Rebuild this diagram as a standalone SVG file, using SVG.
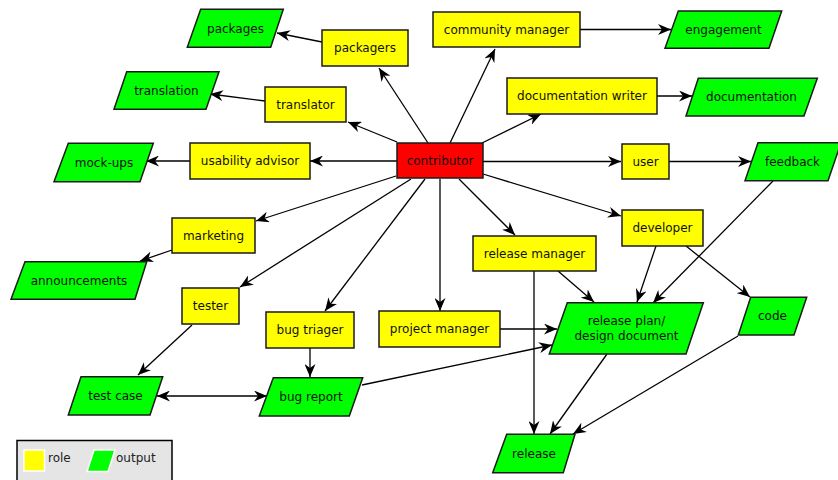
<svg xmlns="http://www.w3.org/2000/svg" width="838" height="480" viewBox="0 0 838 480">
<style>
.role{fill:#ffff00;stroke:#1a1a1a;stroke-width:1.5}
.out{fill:#00ff00;stroke:#1a1a1a;stroke-width:1.5}
.main{fill:#ff0000;stroke:#1a1a1a;stroke-width:1.5}
text{font-family:"DejaVu Sans",sans-serif;font-size:12px;fill:#111;text-anchor:middle}
.e line,.e path{stroke:#000;stroke-width:1.3;fill:none;marker-end:url(#a)}
</style>
<defs>
<marker id="a" viewBox="0 0 13 11" refX="13" refY="5.5" markerWidth="13" markerHeight="11" markerUnits="userSpaceOnUse" orient="auto-start-reverse">
<path d="M0,0 L13,5.5 L0,11 L4,5.5 z" fill="#000"/>
</marker>
</defs>
<rect width="838" height="480" fill="#fff"/>
<g id="edges" class="e">
<line x1="428" y1="143" x2="379" y2="68"/>
<line x1="397" y1="142" x2="348" y2="122"/>
<line x1="450" y1="143" x2="495" y2="49"/>
<line x1="482" y1="143" x2="541" y2="114"/>
<line x1="580" y1="29.5" x2="671" y2="29.5"/>
<line x1="657" y1="96" x2="692" y2="96"/>
<line x1="397" y1="161" x2="310" y2="161"/>
<line x1="190" y1="161" x2="146" y2="161"/>
<line x1="396" y1="176" x2="256" y2="221"/>
<line x1="172" y1="250" x2="140" y2="261"/>
<line x1="411" y1="179" x2="240" y2="287"/>
<line x1="425" y1="179" x2="325" y2="311"/>
<line x1="440" y1="179" x2="440" y2="311"/>
<line x1="459" y1="179" x2="515" y2="235"/>
<line x1="483" y1="161.5" x2="621" y2="161.5"/>
<line x1="669" y1="161.5" x2="751" y2="161.5"/>
<line x1="483" y1="174" x2="621" y2="216"/>
<line x1="773" y1="181" x2="653" y2="303"/>
<line x1="656" y1="246" x2="637" y2="302"/>
<line x1="686" y1="246" x2="750" y2="297"/>
<line x1="558" y1="271" x2="594" y2="302"/>
<line x1="534" y1="271" x2="534" y2="434"/>
<line x1="500" y1="329" x2="557" y2="329"/>
<line x1="362" y1="385" x2="552" y2="345"/>
<line x1="607" y1="354" x2="550" y2="434"/>
<line x1="738" y1="336" x2="573" y2="434"/>
<line x1="192" y1="325" x2="138" y2="375"/>
<line x1="310" y1="348" x2="310" y2="377"/>
<line x1="157" y1="396" x2="267" y2="396" style="marker-start:url(#a)"/>
<line x1="322" y1="42" x2="277" y2="33"/>
<line x1="265" y1="101" x2="210" y2="94"/>
</g>
<g id="contributor"><rect class="main" x="397" y="143" width="86" height="35"/><text x="440" y="165">contributor</text></g>
<g id="packagers"><rect class="role" x="322" y="30" width="86" height="36"/><text x="365" y="52">packagers</text></g>
<g id="translator"><rect class="role" x="265" y="87" width="81" height="35"/><text x="305.5" y="109">translator</text></g>
<g id="community_manager"><rect class="role" x="433" y="12" width="147" height="35"/><text x="506.5" y="34">community manager</text></g>
<g id="documentation_writer"><rect class="role" x="507" y="78" width="150" height="36"/><text x="582" y="100">documentation writer</text></g>
<g id="usability_advisor"><rect class="role" x="190" y="143" width="120" height="36"/><text x="250" y="165">usability advisor</text></g>
<g id="marketing"><rect class="role" x="172" y="218" width="83" height="35"/><text x="213.5" y="240">marketing</text></g>
<g id="tester"><rect class="role" x="182" y="288" width="57" height="36"/><text x="210.5" y="310">tester</text></g>
<g id="bug_triager"><rect class="role" x="266" y="312" width="88" height="36"/><text x="310" y="334">bug triager</text></g>
<g id="project_manager"><rect class="role" x="379" y="311" width="121" height="36"/><text x="439.5" y="333">project manager</text></g>
<g id="release_manager"><rect class="role" x="473" y="236" width="123" height="35"/><text x="534.5" y="258">release manager</text></g>
<g id="user"><rect class="role" x="622" y="144" width="47" height="35"/><text x="645.5" y="166">user</text></g>
<g id="developer"><rect class="role" x="622" y="210" width="81" height="36"/><text x="662.5" y="232">developer</text></g>
<g id="packages"><polygon class="out" points="200.7,9.3 283.3,9.3 270.7,47.3 187.3,47.3"/><text x="235.5" y="32.5">packages</text></g>
<g id="translation"><polygon class="out" points="126.7,71.7 219,71.7 206,109.3 114,109.3"/><text x="166.4" y="94.5">translation</text></g>
<g id="mock-ups"><polygon class="out" points="68.3,143.3 153.3,143.3 140,181.7 54,181.7"/><text x="104" y="166.5">mock-ups</text></g>
<g id="announcements"><polygon class="out" points="25,261.7 146.7,261.7 135,299.3 11,299.3"/><text x="79" y="284.5">announcements</text></g>
<g id="test_case"><polygon class="out" points="81,376.7 162.7,376.7 150,415 68.3,415"/><text x="115.5" y="400">test case</text></g>
<g id="bug_report"><polygon class="out" points="273.3,377.7 362.7,377.7 349.3,416 259.3,416"/><text x="311" y="401">bug report</text></g>
<g id="engagement"><polygon class="out" points="678.3,11 781.7,11 769,48.3 665,48.3"/><text x="723.5" y="34">engagement</text></g>
<g id="documentation"><polygon class="out" points="698.3,78.3 817.3,78.3 804,116 686,116"/><text x="751.5" y="101">documentation</text></g>
<g id="feedback"><polygon class="out" points="758,142.7 841,142.7 828,180.7 745,180.7"/><text x="792.5" y="166">feedback</text></g>
<g id="release_plan"><polygon class="out" points="567.3,302.7 703.3,302.7 686,354 549.3,354"/><text x="626.5" y="325">release plan/</text><text x="626.5" y="340">design document</text></g>
<g id="code"><polygon class="out" points="750.7,297.3 806.7,297.3 794,335 738.3,335"/><text x="772.5" y="320">code</text></g>
<g id="release"><polygon class="out" points="506.7,434.3 575,434.3 563.3,472.7 492.7,472.7"/><text x="534" y="457.5">release</text></g>
<g id="legend">
<rect x="17" y="440.5" width="155" height="50" fill="#e5e5e5" stroke="#000" stroke-width="1.5"/>
<rect x="24" y="450" width="20.5" height="21" fill="#ffff00" stroke="#fff" stroke-width="1.5"/>
<text x="48" y="461.5" style="text-anchor:start;fill:#222">role</text>
<polygon points="94,450 115,450 108,471.5 87,471.5" fill="#00ff00" stroke="#fff" stroke-width="1.5"/>
<text x="116" y="461.5" style="text-anchor:start;fill:#222">output</text>
</g>
</svg>
